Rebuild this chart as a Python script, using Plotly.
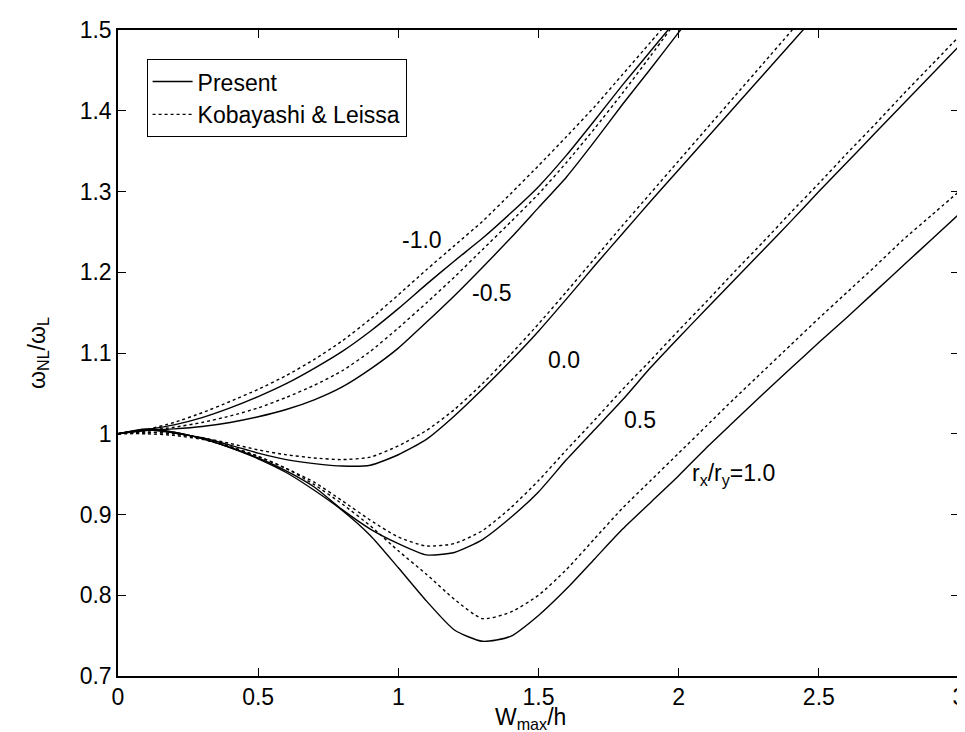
import plotly.graph_objects as go

# x positions (W_max/h)
x_vals = [0.0, 0.1, 0.2, 0.3, 0.4, 0.5, 0.6, 0.7, 0.8, 0.9, 1.0, 1.1, 1.2, 1.3, 1.4, 1.5,
          1.6, 1.7, 1.8, 1.9, 2.0, 2.1, 2.2, 2.3, 2.4, 2.5, 2.6, 2.7, 2.8, 2.9, 3.0]

# Present (solid) curves, rx/ry = -1.0, -0.5, 0.0, 0.5, 1.0
present_m10 = [1.0, 1.005, 1.011, 1.020, 1.032, 1.046, 1.062, 1.081, 1.102, 1.127, 1.155, 1.185,
               1.214, 1.242, 1.273, 1.306, 1.345, 1.388, 1.432, 1.474, 1.516]
present_m05 = [1.0, 1.004, 1.006, 1.009, 1.014, 1.021, 1.030, 1.042, 1.058, 1.080, 1.106, 1.138,
               1.171, 1.206, 1.242, 1.280, 1.318, 1.362, 1.408, 1.452, 1.497, 1.54]
present_00 = [1.0, 1.005, 1.001, 0.995, 0.986, 0.976, 0.968, 0.963, 0.960, 0.961, 0.974, 0.993,
              1.022, 1.055, 1.090, 1.127, 1.167, 1.208, 1.248, 1.288, 1.327, 1.366, 1.405,
              1.444, 1.483, 1.522]
present_05 = [1.0, 1.006, 1.002, 0.994, 0.983, 0.970, 0.954, 0.934, 0.906, 0.882, 0.864, 0.850,
              0.853, 0.869, 0.896, 0.928, 0.968, 1.005, 1.042, 1.082, 1.119, 1.155, 1.191,
              1.227, 1.263, 1.300, 1.336, 1.372, 1.408, 1.444, 1.480]
present_10 = [1.0, 1.005, 1.002, 0.994, 0.983, 0.969, 0.952, 0.930, 0.905, 0.874, 0.834, 0.793,
              0.757, 0.743, 0.749, 0.775, 0.808, 0.845, 0.882, 0.915, 0.948, 0.983, 1.016,
              1.049, 1.081, 1.113, 1.144, 1.176, 1.208, 1.240, 1.272]

# Kobayashi & Leissa (dotted) curves
kl_m10 = [1.0, 1.005, 1.014, 1.026, 1.040, 1.055, 1.072, 1.092, 1.115, 1.142, 1.172, 1.203,
          1.233, 1.263, 1.297, 1.332, 1.368, 1.405, 1.445, 1.485, 1.525]
kl_m05 = [1.0, 1.004, 1.008, 1.014, 1.022, 1.032, 1.045, 1.060, 1.078, 1.102, 1.131, 1.162,
          1.194, 1.228, 1.262, 1.297, 1.336, 1.378, 1.422, 1.468, 1.515]
kl_00 = [1.0, 1.002, 1.000, 0.995, 0.988, 0.980, 0.974, 0.970, 0.968, 0.971, 0.985, 1.004,
         1.030, 1.062, 1.098, 1.136, 1.176, 1.217, 1.258, 1.298, 1.338, 1.378, 1.418,
         1.458, 1.498, 1.538]
kl_05 = [1.0, 1.002, 1.000, 0.994, 0.984, 0.972, 0.957, 0.940, 0.917, 0.893, 0.872, 0.861,
         0.864, 0.880, 0.908, 0.942, 0.980, 1.017, 1.055, 1.091, 1.128, 1.164, 1.201,
         1.237, 1.274, 1.310, 1.347, 1.383, 1.420, 1.456, 1.492]
kl_10 = [1.0, 1.000, 0.998, 0.993, 0.984, 0.972, 0.957, 0.937, 0.913, 0.886, 0.855, 0.826,
         0.795, 0.771, 0.779, 0.800, 0.832, 0.870, 0.908, 0.942, 0.976, 1.010, 1.044,
         1.077, 1.110, 1.143, 1.175, 1.207, 1.240, 1.270, 1.300]

x_ticks = [0, 0.5, 1, 1.5, 2, 2.5, 3]
x_ticklabels = ["0", "0.5", "1", "1.5", "2", "2.5", "3"]
y_ticks = [0.7, 0.8, 0.9, 1.0, 1.1, 1.2, 1.3, 1.4, 1.5]
y_ticklabels = ["0.7", "0.8", "0.9", "1", "1.1", "1.2", "1.3", "1.4", "1.5"]

curve_labels = ["-1.0", "-0.5", "0.0", "0.5", "r<sub>x</sub>/r<sub>y</sub>=1.0"]
label_x = [1.086, 1.333, 1.591, 1.862, 2.195]
label_y = [1.240, 1.174, 1.091, 1.017, 0.950]

FONT = "Liberation Sans, Arial, sans-serif"
FS = 23

fig = go.Figure()

present_all = [present_m10, present_m05, present_00, present_05, present_10]
kl_all = [kl_m10, kl_m05, kl_00, kl_05, kl_10]

for i, ys in enumerate(present_all):
    fig.add_trace(go.Scatter(
        x=x_vals[:len(ys)], y=ys, mode="lines", name="Present",
        legendgroup="present", showlegend=(i == 0),
        line=dict(color="black", width=1.4, shape="spline", smoothing=0.6)))
for i, ys in enumerate(kl_all):
    fig.add_trace(go.Scatter(
        x=x_vals[:len(ys)], y=ys, mode="lines", name="Kobayashi &amp; Leissa",
        legendgroup="kl", showlegend=(i == 0),
        line=dict(color="black", width=1.4, dash="3px,3px", shape="spline", smoothing=0.6)))

for t, lx, ly in zip(curve_labels, label_x, label_y):
    fig.add_annotation(x=lx, y=ly, text=t, showarrow=False,
                       font=dict(family=FONT, size=FS, color="black"))

# x-axis title placed as a paper annotation so it stays inside the page
fig.add_annotation(x=0.49, y=-0.066, xref="paper", yref="paper",
                   xanchor="center", yanchor="middle", showarrow=False,
                   text="W<sub>max</sub>/h",
                   font=dict(family=FONT, size=FS, color="black"))

axis_common = dict(showline=True, linecolor="black", linewidth=1.5, mirror="ticks",
                   ticks="inside", ticklen=8, tickcolor="black", tickwidth=1,
                   showgrid=False, zeroline=False,
                   tickfont=dict(family=FONT, size=FS, color="black"))

fig.update_layout(
    width=965, height=732,
    margin=dict(l=110, r=8, t=22, b=64),
    paper_bgcolor="white", plot_bgcolor="white",
    xaxis=dict(range=[0, 3], tickvals=x_ticks, ticktext=x_ticklabels,
               **axis_common),
    yaxis=dict(range=[0.7, 1.5], tickvals=y_ticks, ticktext=y_ticklabels,
               title=dict(text="ω<sub>NL</sub>/ω<sub>L</sub>", standoff=28,
                          font=dict(family=FONT, size=FS, color="black")),
               **axis_common),
    legend=dict(x=0.034, y=0.955, xanchor="left", yanchor="top",
                bgcolor="white", bordercolor="black", borderwidth=1,
                font=dict(family=FONT, size=FS, color="black"),
                itemwidth=40, tracegroupgap=0),
    showlegend=True,
)

fig.write_html("out.html")
